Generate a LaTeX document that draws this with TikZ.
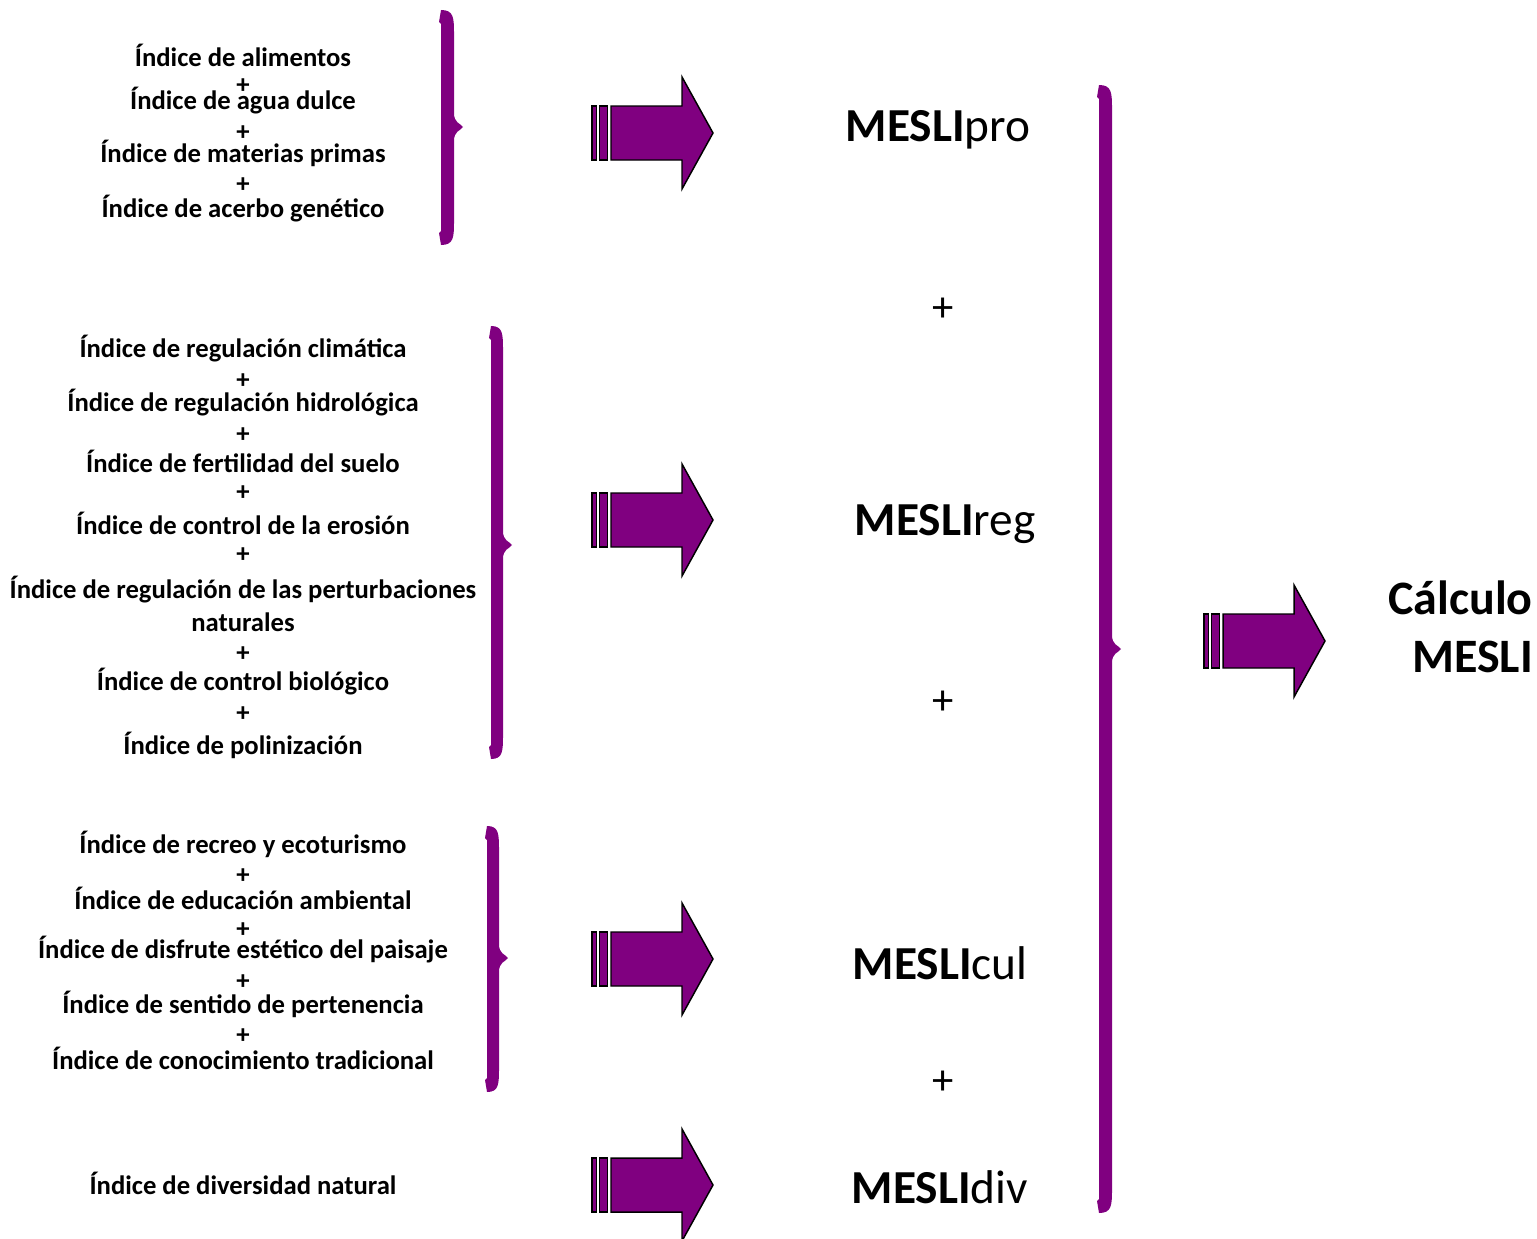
\documentclass[tikz,border=0pt]{standalone}
\usepackage{fontspec}
\setmainfont{Carlito}
\definecolor{mpurple}{RGB}{128,0,128}
\tikzset{
  idx/.style={font=\fontsize{20}{24}\selectfont\bfseries, inner sep=0pt, anchor=center},
  pl/.style={font=\fontsize{20}{24}\selectfont\bfseries, inner sep=0pt, anchor=center},
  mesli/.style={font=\fontsize{35.5}{40}\selectfont, inner sep=0pt, anchor=center},
  bigplus/.style={font=\fontsize{32}{36}\selectfont, inner sep=0pt, anchor=center},
  afill/.style={fill=mpurple, draw=black, line width=1.1pt, line join=miter},
  blockarrow/.pic={
    \draw[afill] (0,-27) rectangle (4.5,27);
    \draw[afill] (7.5,-27) rectangle (15.5,27);
    \draw[afill] (19,-27) -- (90,-27) -- (90,-56) -- (121,0) -- (90,56) -- (90,27) -- (19,27) -- cycle;
  }
}
% brace: x0 left edge, yT top, yB bottom, yM tip, w thickness
\newcommand{\mybrace}[5]{%
  \fill[mpurple] (#1,#2) .. controls (#1+#5,#2) and (#1+#5,#2+8) .. (#1+#5,#2+25)
    -- (#1+#5,#4-14) .. controls (#1+#5,#4-4) and (#1+#5+6,#4-4) .. (#1+#5+9,#4)
    .. controls (#1+#5+6,#4+4) and (#1+#5,#4+4) .. (#1+#5,#4+14)
    -- (#1+#5,#3-25) .. controls (#1+#5,#3-8) and (#1+#5,#3) .. (#1,#3)
    -- (#1-2,#3-12) -- (#1,#3-14) -- (#1,#2+14) -- (#1-2,#2+12) -- cycle;}
\begin{document}
\begin{tikzpicture}[x=0.75pt,y=-0.75pt]
\useasboundingbox (0,0) rectangle (1537,1238);
% group 1
\node[idx] (a1) at (243,55) {Índice de alimentos};
\node[pl] (p11) at (243,86) {+};
\node[idx] (a2) at (243,101) {Índice de agua dulce};
\node[pl] (p12) at (243,133) {+};
\node[idx] (a3) at (243,153) {Índice de materias primas};
\node[pl] (p13) at (243,185) {+};
\node[idx] (a4) at (243,209) {Índice de acerbo genético};
% group 2
\node[idx] (b1) at (243,349) {Índice de regulación climática};
\node[pl] (p21) at (243,381) {+};
\node[idx] (b2) at (243,403) {Índice de regulación hidrológica};
\node[pl] (p22) at (243,435) {+};
\node[idx] (b3) at (243,461) {Índice de fertilidad del suelo};
\node[pl] (p23) at (243,493) {+};
\node[idx] (b4) at (243,523) {Índice de control de la erosión};
\node[pl] (p24) at (243,555) {+};
\node[idx] (b5) at (243,590) {Índice de regulación de las perturbaciones};
\node[idx] (b5b) at (243,622) {naturales};
\node[pl] (p25) at (243,654) {+};
\node[idx] (b6) at (243,682) {Índice de control biológico};
\node[pl] (p26) at (243,714) {+};
\node[idx] (b7) at (243,745) {Índice de polinización};
% group 3
\node[idx] (c1) at (243,844) {Índice de recreo y ecoturismo};
\node[pl] (p31) at (243,876) {+};
\node[idx] (c2) at (243,898) {Índice de educación ambiental};
\node[pl] (p32) at (243,930) {+};
\node[idx] (c3) at (243,950) {Índice de disfrute estético del paisaje};
\node[pl] (p33) at (243,982) {+};
\node[idx] (c4) at (243,1004) {Índice de sentido de pertenencia};
\node[pl] (p34) at (243,1036) {+};
\node[idx] (c5) at (243,1058) {Índice de conocimiento tradicional};
% group 4
\node[idx] (d1) at (243,1183) {Índice de diversidad natural};
% braces
\mybrace{441}{10}{245}{127}{13}
\mybrace{491}{326}{759}{545}{12}
\mybrace{487}{826}{1092}{958}{12}
\mybrace{1099}{85}{1213}{649}{13}
% arrows
\pic at (592,133) {blockarrow};
\pic at (592,520) {blockarrow};
\pic at (592,959) {blockarrow};
\pic at (592,1185) {blockarrow};
\pic at (1204,641) {blockarrow};
% MESLI labels
\node[mesli] (m1) at (938,130) {\textbf{MESLI}pro};
\node[bigplus] (q1) at (943,310) {+};
\node[mesli] (m2) at (945,524) {\textbf{MESLI}reg};
\node[bigplus] (q2) at (943,703) {+};
\node[mesli] (m3) at (940,963) {\textbf{MESLI}cul};
\node[bigplus] (q3) at (943,1083) {+};
\node[mesli] (m4) at (940,1187) {\textbf{MESLI}div};
\node[mesli, anchor=east, align=right, font=\fontsize{36}{43.5}\selectfont\bfseries] (calc) at (1533,627) {Cálculo\\MESLI};
\end{tikzpicture}
\end{document}
